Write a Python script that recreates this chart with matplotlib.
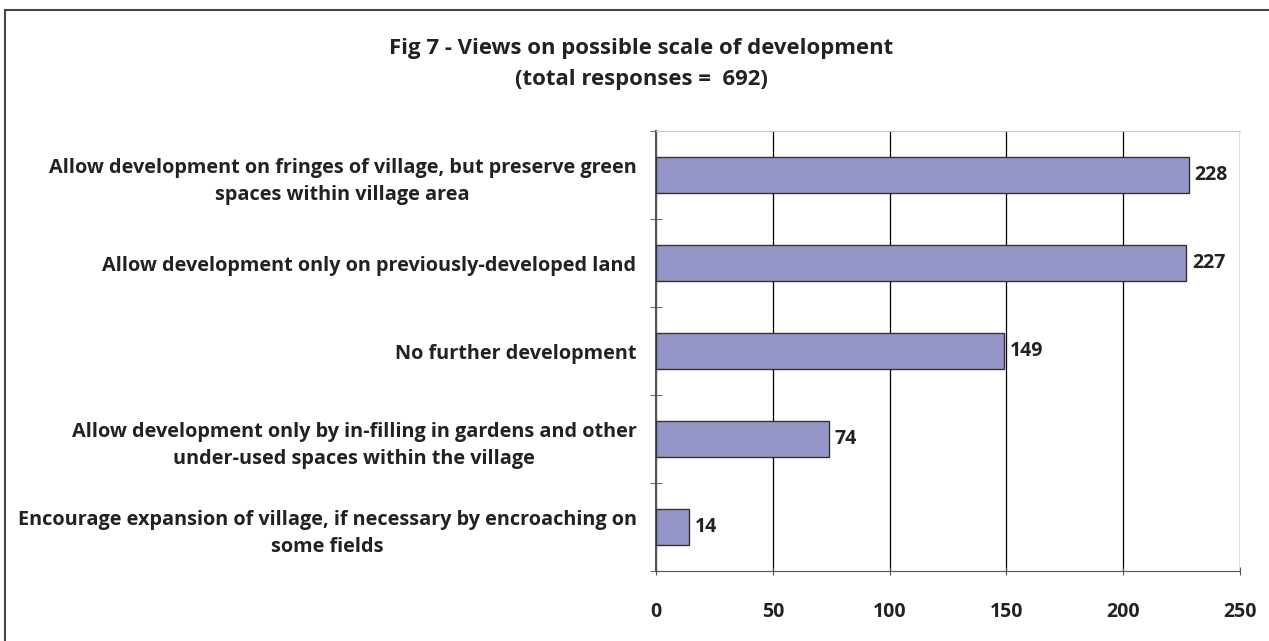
import matplotlib.pyplot as plt
from matplotlib.patches import Rectangle

# data
categories = [
    'Allow development on fringes of village, but preserve green\nspaces within village area',
    'Allow development only on previously-developed land',
    'No further development',
    'Allow development only by in-filling in gardens and other\nunder-used spaces within the village',
    'Encourage expansion of village, if necessary by encroaching on\nsome fields',
]
values = [228, 227, 149, 74, 14]
x_ticks = [0, 50, 100, 150, 200, 250]
title = 'Fig 7 - Views on possible scale of development\n(total responses =  692)'

plt.rcParams['font.family'] = ['Open Sans', 'DejaVu Sans']

fig = plt.figure(figsize=(12.69, 6.41), dpi=100)
ax = fig.add_axes([656 / 1269, 1 - 571 / 641, 584 / 1269, 440 / 641])

y = list(range(len(values)))
bars = ax.barh(y, values, height=0.42, color='#9595C8', edgecolor='#333333', linewidth=1, zorder=3)
ax.set_ylim(len(values) - 0.5, -0.5)
ax.set_xlim(0, 250)

ax.set_xticks(x_ticks)
ax.set_xticklabels([str(t) for t in x_ticks], fontsize=14, fontweight='bold', color='#222222')
ax.set_yticks(y)
ax.set_yticklabels(categories, fontsize=14.3, fontweight='bold', color='#222222',
                   linespacing=1.5, multialignment='center')
ax.tick_params(axis='y', length=0, pad=14)
ax.tick_params(axis='x', length=6, direction='inout', pad=19, color='#555555')

# minor ticks between categories on the y axis
ax.set_yticks([i - 0.5 for i in range(len(values) + 1)], minor=True)
ax.tick_params(axis='y', which='minor', length=8, direction='inout', color='#555555')

ax.grid(axis='x', color='black', linewidth=0.9, zorder=0)
ax.spines['right'].set_visible(False)
ax.spines['top'].set_color('#c8c8c8')
ax.spines['top'].set_linewidth(0.8)
ax.spines['left'].set_color('#555555')
ax.spines['bottom'].set_color('#555555')
ax.spines['left'].set_linewidth(1.5)

for b, v in zip(bars, values):
    ax.text(v + 2.5, b.get_y() + b.get_height() / 2, str(v), va='center', ha='left',
            fontsize=14, fontweight='bold', color='#222222')

fig.text(641 / 1269, 1 - 64 / 641, title, ha='center', va='center', fontsize=15.9,
         fontweight='bold', color='#222222', linespacing=1.6)

# outer chart border
fig.patches.append(Rectangle((5 / 1269, -0.1), 1.2, 1 - 10 / 641 + 0.1, transform=fig.transFigure,
                             fill=False, edgecolor='#444444', linewidth=1.5))

fig.savefig('out.png', dpi=100)
